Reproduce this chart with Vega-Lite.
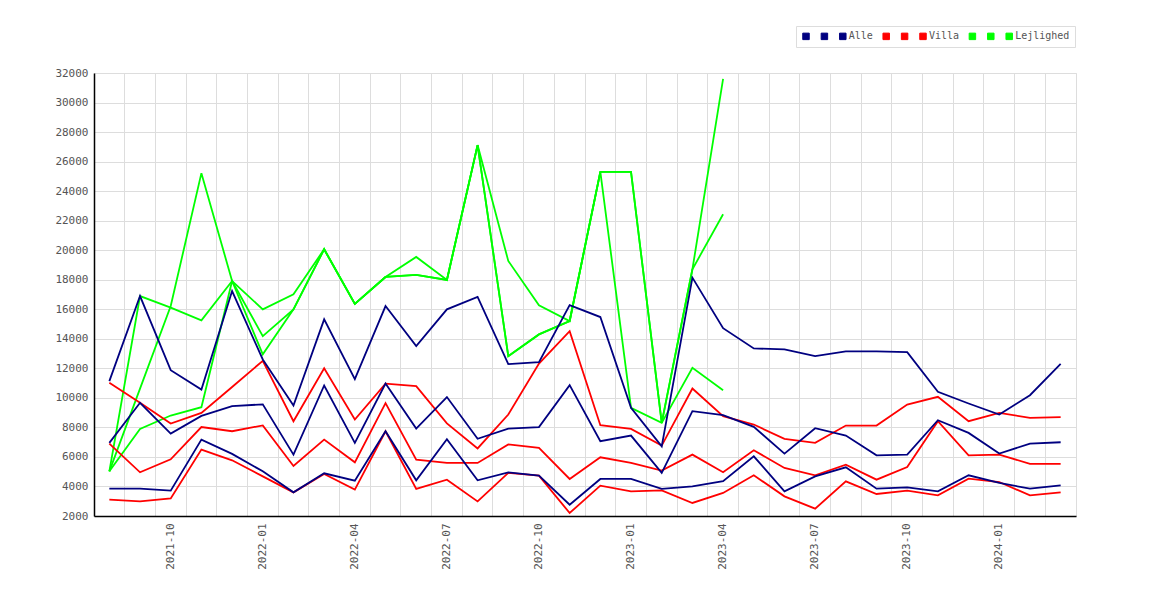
{
  "$schema": "https://vega.github.io/schema/vega-lite/v6.json",
  "description": "Monthly lines for Alle, Villa and Lejlighed, three lines each.",
  "autosize": {"type": "none"},
  "padding": {"left": 94, "top": 73, "right": 94, "bottom": 84},
  "width": 982,
  "height": 443,
  "background": "white",
  "data": {
    "values": [
      {"m": "2021-08", "Alle_1": 11130, "Alle_2": 6952, "Alle": 3852, "Villa_1": 11020, "Villa_2": 6904, "Villa": 3106, "Lejlighed_1": 5025, "Lejlighed_2": 5025, "Lejlighed": 5025},
      {"m": "2021-09", "Alle_1": 16896, "Alle_2": 9665, "Alle": 3852, "Villa_1": 9665, "Villa_2": 4960, "Villa": 2990, "Lejlighed_1": 16896, "Lejlighed_2": 7901, "Lejlighed": 10622},
      {"m": "2021-10", "Alle_1": 11877, "Alle_2": 7582, "Alle": 3716, "Villa_1": 8261, "Villa_2": 5842, "Villa": 3194, "Lejlighed_1": 16109, "Lejlighed_2": 8803, "Lejlighed": 16218},
      {"m": "2021-11", "Alle_1": 10567, "Alle_2": 8780, "Alle": 7175, "Villa_1": 8986, "Villa_2": 8023, "Villa": 6497, "Lejlighed_1": 15247, "Lejlighed_2": 9366, "Lejlighed": 25218},
      {"m": "2021-12", "Alle_1": 17235, "Alle_2": 9434, "Alle": 6205, "Villa_1": 10737, "Villa_2": 7741, "Villa": 5771, "Lejlighed_1": 17913, "Lejlighed_2": 17913, "Lejlighed": 17913},
      {"m": "2022-01", "Alle_1": 12602, "Alle_2": 9560, "Alle": 5025, "Villa_1": 12510, "Villa_2": 8135, "Villa": 4686, "Lejlighed_1": 15993, "Lejlighed_2": 14182, "Lejlighed": 12950},
      {"m": "2022-02", "Alle_1": 9482, "Alle_2": 6158, "Alle": 3601, "Villa_1": 8417, "Villa_2": 5388, "Villa": 3601, "Lejlighed_1": 17010, "Lejlighed_2": 15993, "Lejlighed": 15993},
      {"m": "2022-03", "Alle_1": 15315, "Alle_2": 10838, "Alle": 4890, "Villa_1": 12000, "Villa_2": 7175, "Villa": 4849, "Lejlighed_1": 20063, "Lejlighed_2": 20063, "Lejlighed": 20063},
      {"m": "2022-04", "Alle_1": 11270, "Alle_2": 6952, "Alle": 4394, "Villa_1": 8532, "Villa_2": 5636, "Villa": 3784, "Lejlighed_1": 16367, "Lejlighed_2": 16367, "Lejlighed": 16367},
      {"m": "2022-05", "Alle_1": 16218, "Alle_2": 10974, "Alle": 7741, "Villa_1": 10964, "Villa_2": 9641, "Villa": 7741, "Lejlighed_1": 18187, "Lejlighed_2": 18187, "Lejlighed": 18187},
      {"m": "2022-06", "Alle_1": 13505, "Alle_2": 7921, "Alle": 4416, "Villa_1": 10791, "Villa_2": 5819, "Villa": 3831, "Lejlighed_1": 19544, "Lejlighed_2": 18324, "Lejlighed": 18324},
      {"m": "2022-07", "Alle_1": 15994, "Alle_2": 10057, "Alle": 7198, "Villa_1": 8274, "Villa_2": 5595, "Villa": 4462, "Lejlighed_1": 17985, "Lejlighed_2": 17985, "Lejlighed": 17985},
      {"m": "2022-08", "Alle_1": 16840, "Alle_2": 7232, "Alle": 4416, "Villa_1": 6575, "Villa_2": 5595, "Villa": 2990, "Lejlighed_1": 27118, "Lejlighed_2": 27118, "Lejlighed": 27118},
      {"m": "2022-09", "Alle_1": 12290, "Alle_2": 7911, "Alle": 4960, "Villa_1": 8871, "Villa_2": 6846, "Villa": 4916, "Lejlighed_1": 19273, "Lejlighed_2": 12826, "Lejlighed": 12826},
      {"m": "2022-10", "Alle_1": 12419, "Alle_2": 8023, "Alle": 4734, "Villa_1": 12320, "Villa_2": 6612, "Villa": 4734, "Lejlighed_1": 16265, "Lejlighed_2": 14298, "Lejlighed": 14298},
      {"m": "2022-11", "Alle_1": 16285, "Alle_2": 10859, "Alle": 2767, "Villa_1": 14521, "Villa_2": 4508, "Villa": 2203, "Lejlighed_1": 15202, "Lejlighed_2": 15202, "Lejlighed": 15202},
      {"m": "2022-12", "Alle_1": 15473, "Alle_2": 7062, "Alle": 4508, "Villa_1": 8150, "Villa_2": 5975, "Villa": 4055, "Lejlighed_1": 25307, "Lejlighed_2": 25307, "Lejlighed": 25307},
      {"m": "2023-01", "Alle_1": 9325, "Alle_2": 7447, "Alle": 4508, "Villa_1": 7901, "Villa_2": 5595, "Villa": 3669, "Lejlighed_1": 9325, "Lejlighed_2": 25307, "Lejlighed": 25307},
      {"m": "2023-02", "Alle_1": 6721, "Alle_2": 4916, "Alle": 3831, "Villa_1": 6768, "Villa_2": 5073, "Villa": 3737, "Lejlighed_1": 8308, "Lejlighed_2": 8308, "Lejlighed": 8308},
      {"m": "2023-03", "Alle_1": 18143, "Alle_2": 9097, "Alle": 4010, "Villa_1": 10635, "Villa_2": 6158, "Villa": 2882, "Lejlighed_1": 12037, "Lejlighed_2": 18707, "Lejlighed": 18707},
      {"m": "2023-04", "Alle_1": 14716, "Alle_2": 8826, "Alle": 4360, "Villa_1": 8758, "Villa_2": 4960, "Villa": 3559, "Lejlighed_1": 10521, "Lejlighed_2": 22437, "Lejlighed": 31595},
      {"m": "2023-05", "Alle_1": 13348, "Alle_2": 8036, "Alle": 6043, "Villa_1": 8193, "Villa_2": 6450, "Villa": 4757},
      {"m": "2023-06", "Alle_1": 13280, "Alle_2": 6226, "Alle": 3669, "Villa_1": 7221, "Villa_2": 5256, "Villa": 3330},
      {"m": "2023-07", "Alle_1": 12826, "Alle_2": 7944, "Alle": 4686, "Villa_1": 6952, "Villa_2": 4757, "Villa": 2495},
      {"m": "2023-08", "Alle_1": 13144, "Alle_2": 7447, "Alle": 5297, "Villa_1": 8125, "Villa_2": 5480, "Villa": 4349},
      {"m": "2023-09", "Alle_1": 13144, "Alle_2": 6110, "Alle": 3852, "Villa_1": 8125, "Villa_2": 4462, "Villa": 3492},
      {"m": "2023-10", "Alle_1": 13099, "Alle_2": 6157, "Alle": 3941, "Villa_1": 9550, "Villa_2": 5310, "Villa": 3716},
      {"m": "2023-11", "Alle_1": 10411, "Alle_2": 8486, "Alle": 3669, "Villa_1": 10069, "Villa_2": 8417, "Villa": 3398},
      {"m": "2023-12", "Alle_1": 9617, "Alle_2": 7628, "Alle": 4757, "Villa_1": 8417, "Villa_2": 6110, "Villa": 4530},
      {"m": "2024-01", "Alle_1": 8871, "Alle_2": 6226, "Alle": 4238, "Villa_1": 8986, "Villa_2": 6158, "Villa": 4300},
      {"m": "2024-02", "Alle_1": 10180, "Alle_2": 6904, "Alle": 3852, "Villa_1": 8647, "Villa_2": 5527, "Villa": 3398},
      {"m": "2024-03", "Alle_1": 12310, "Alle_2": 6994, "Alle": 4078, "Villa_1": 8690, "Villa_2": 5527, "Villa": 3601}
    ]
  },
  "transform": [
    {
      "fold": ["Lejlighed_1", "Lejlighed_2", "Lejlighed", "Villa_1", "Villa_2", "Villa", "Alle_1", "Alle_2", "Alle"],
      "as": ["serie", "pris"]
    },
    {"filter": "isValid(datum.pris)"}
  ],
  "mark": {"type": "line", "strokeWidth": 1.8, "strokeJoin": "miter"},
  "encoding": {
    "x": {
      "field": "m",
      "type": "ordinal",
      "sort": null,
      "scale": {"type": "band", "paddingInner": 0, "paddingOuter": 0},
      "axis": {
        "title": null,
        "bandPosition": 0,
        "grid": true,
        "ticks": false,
        "labelAngle": -90,
        "labelAlign": "right",
        "labelBaseline": "middle",
        "labelPadding": 7,
        "labelOverlap": false,
        "labelBound": false,
        "labelExpr": "indexof(['01','04','07','10'], substring(datum.value, 5)) >= 0 ? datum.value : ''"
      }
    },
    "y": {
      "field": "pris",
      "type": "quantitative",
      "scale": {"domain": [2000, 32000], "nice": false, "zero": false},
      "axis": {
        "title": null,
        "ticks": false,
        "format": "d",
        "labelPadding": 6,
        "values": [2000, 4000, 6000, 8000, 10000, 12000, 14000, 16000, 18000, 20000, 22000, 24000, 26000, 28000, 30000, 32000]
      }
    },
    "color": {
      "field": "serie",
      "type": "nominal",
      "scale": {
        "domain": ["Alle_1", "Alle_2", "Alle", "Villa_1", "Villa_2", "Villa", "Lejlighed_1", "Lejlighed_2", "Lejlighed"],
        "range": ["#000080", "#000080", "#000080", "#ff0000", "#ff0000", "#ff0000", "#00ff00", "#00ff00", "#00ff00"]
      },
      "legend": {
        "title": null,
        "orient": "none",
        "direction": "horizontal",
        "legendX": 702,
        "legendY": -47,
        "padding": 5,
        "strokeColor": "#dddddd",
        "fillColor": "white",
        "symbolType": "square",
        "symbolSize": 42,
        "symbolStrokeWidth": 1,
        "labelOffset": 1,
        "columnPadding": 6.4,
        "labelFont": "DejaVu Sans Mono",
        "labelFontSize": 10,
        "labelColor": "#555555",
        "labelExpr": "indexof(datum.label, '_') >= 0 ? ' ' : datum.label",
        "encode": {
          "symbols": {
            "update": {
              "fill": {"scale": "color", "field": "value"},
              "stroke": {"value": "#777777"},
              "opacity": {"value": 1}
            }
          }
        }
      }
    }
  },
  "config": {
    "view": {"stroke": "#dddddd", "strokeWidth": 1},
    "axis": {
      "domainColor": "#000000",
      "domainWidth": 1.5,
      "gridColor": "#dddddd",
      "gridWidth": 1,
      "labelFont": "DejaVu Sans Mono",
      "labelFontSize": 11,
      "labelColor": "#555555"
    }
  }
}
